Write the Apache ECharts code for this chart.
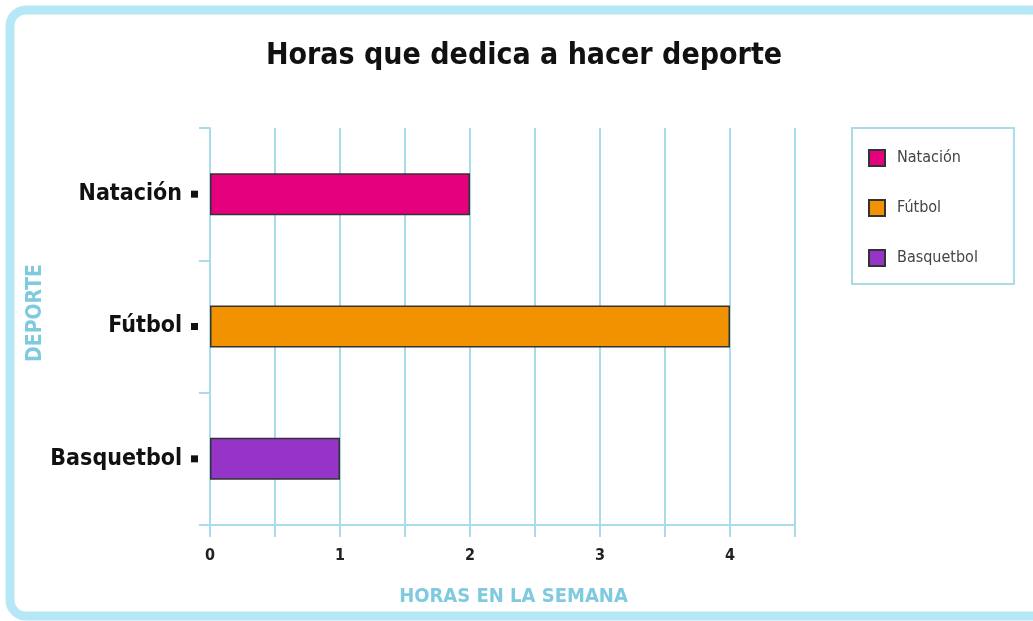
<!DOCTYPE html>
<html>
<head>
<meta charset="utf-8">
<script src="https://cdn.jsdelivr.net/npm/echarts@6/dist/echarts.min.js"></script>
<style>
  html, body { margin: 0; padding: 0; background: #fff; }
  #main { width: 1033px; height: 621px; }
</style>
</head>
<body>
<div id="main"></div>
<script>
// datos de la grafica
const categories = ['Natación', 'Fútbol', 'Basquetbol'];
const hours = [2, 4, 1];
const barColors = ['#e5007d', '#f39200', '#9634c8'];

const FONT = 'DejaVu Sans Condensed';
const LIGHT = '#a9dbe9';
const BLUE_TEXT = '#7fcadf';

const chart = echarts.init(document.getElementById('main'));

chart.setOption({
  animation: false,
  textStyle: { fontFamily: FONT },
  title: {
    text: 'Horas que dedica a hacer deporte',
    left: 519,
    textAlign: 'center',
    top: 36,
    textStyle: { fontFamily: FONT, fontSize: 30, fontWeight: 'bold', color: '#111' }
  },
  graphic: [{
    type: 'rect',
    shape: { x: 10, y: 10, width: 1040, height: 606, r: 16 },
    style: { fill: 'none', stroke: '#b5e7f6', lineWidth: 9 },
    silent: true
  }, {
    // titulo del eje vertical
    type: 'text',
    x: 36,
    y: 313,
    rotation: Math.PI / 2,
    style: {
      text: 'DEPORTE',
      fill: BLUE_TEXT,
      font: 'bold 21px "DejaVu Sans Condensed"',
      align: 'center',
      verticalAlign: 'middle'
    },
    silent: true
  }],
  legend: {
    orient: 'vertical',
    left: 852,
    top: 128,
    padding: [21, 36, 17, 16],
    itemWidth: 16,
    itemHeight: 16,
    itemGap: 32,
    borderColor: LIGHT,
    borderWidth: 2,
    icon: 'rect',
    textStyle: { fontFamily: FONT, fontSize: 16, color: '#444', lineHeight: 18, padding: [0, 0, 0, 7] },
    data: categories
  },
  grid: { left: 210, right: 238, top: 128, bottom: 96 },
  xAxis: {
    type: 'value',
    min: 0,
    max: 4.5,
    interval: 0.5,
    name: 'HORAS EN LA SEMANA',
    nameLocation: 'middle',
    nameGap: 62,
    nameTextStyle: { fontFamily: FONT, fontSize: 20, fontWeight: 'bold', color: BLUE_TEXT, padding: [0, 0, 0, 22] },
    axisLine: { show: true, lineStyle: { color: LIGHT, width: 2 } },
    axisTick: { show: true, length: 12, lineStyle: { color: LIGHT, width: 2 } },
    splitLine: { show: true, lineStyle: { color: LIGHT, width: 2 } },
    axisLabel: {
      margin: 23,
      fontFamily: FONT,
      fontSize: 16,
      fontWeight: 'bold',
      color: '#222',
      formatter: v => (Number.isInteger(v) ? String(v) : '')
    }
  },
  yAxis: {
    type: 'category',
    inverse: true,
    data: categories,
    axisLine: { show: true, lineStyle: { color: LIGHT, width: 2 } },
    axisTick: { show: true, length: 11, lineStyle: { color: LIGHT, width: 2 } },
    splitLine: { show: false },
    axisLabel: {
      margin: 12,
      formatter: v => '{t|' + v + '}{s|}',
      rich: {
        t: { fontFamily: FONT, fontSize: 23, fontWeight: 'bold', color: '#111', padding: [0, 9, 0, 0] },
        s: { backgroundColor: '#111', width: 7, height: 7 }
      }
    }
  },
  series: categories.map((name, i) => ({
    name: name,
    type: 'bar',
    stack: 'horas',
    barWidth: 42,
    itemStyle: { color: barColors[i], borderColor: '#333', borderWidth: 1.5 },
    data: hours.map((v, j) => (j === i ? v : '-'))
  }))
});
</script>
</body>
</html>
